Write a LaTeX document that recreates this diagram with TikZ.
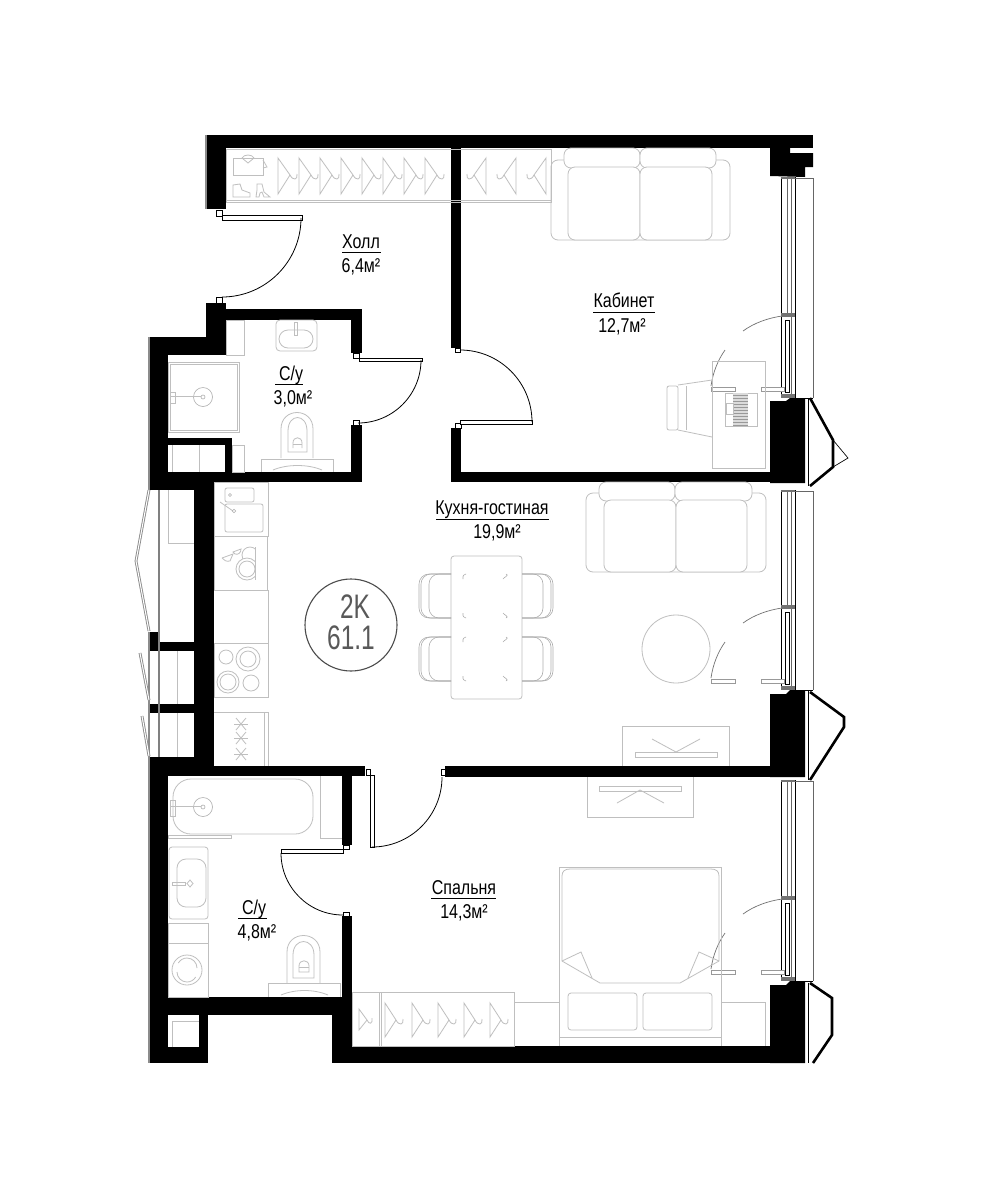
\documentclass[tikz,border=0pt]{standalone}
\usepackage{fontspec}
\setmainfont[FakeStretch=0.8]{Liberation Sans}
\newfontfamily\typefont[FakeStretch=0.72]{Liberation Sans}
\tikzset{%
wall/.style={fill=black},%
furn/.style={draw=black!25,line width=0.8pt,rounded corners=0pt},%
furnfine/.style={draw=black!32,line width=0.6pt},%
glass/.style={draw=black,line width=0.7pt},%
glassthin/.style={draw=black!60,line width=0.6pt},%
leaf/.style={draw=black,fill=white,line width=0.6pt},%
swing/.style={draw=black,line width=0.8pt},%
sashswing/.style={draw=black!55,line width=0.7pt},%
sashleaf/.style={draw=black!40,fill=white,line width=0.7pt},%
bay/.style={draw=black,line width=2.6pt,line join=miter},%
shaft/.style={draw=black!45,line width=1.2pt},%
roomname/.style={anchor=base,font=\fontsize{20}{23}\selectfont,inner sep=0pt},%
namerule/.style={draw=black,line width=0.8pt},%
typetext/.style={anchor=base,font=\typefont\fontsize{34}{37}\selectfont,text=black!65,inner sep=0pt}%
}
\begin{document}
\begin{tikzpicture}[x=1pt,y=-1pt]%
\useasboundingbox (0,0) rectangle (1000,1200);%
\fill[white] (0,0) rectangle (1000,1200);%
\fill[wall] (206,135) rectangle (813,148);%
\fill[wall] (206,135) rectangle (226,209);%
\fill[wall] (770,148) -- (790,148) -- (790,153) -- (813,153) -- (813,167) -- (805,167) -- (805,177) -- (770,176) -- cycle;%
\fill[wall] (451,148) rectangle (461,348);%
\fill[wall] (451,428) rectangle (461,482);%
\fill[wall] (451,472) rectangle (770,482);%
\fill[wall] (206,303) rectangle (226,355);%
\fill[wall] (206,309) rectangle (362,320);%
\fill[wall] (351,309) rectangle (362,353);%
\fill[wall] (351,425) rectangle (362,482);%
\fill[wall] (150,337) rectangle (226,355);%
\fill[wall] (150,337) rectangle (168,490);%
\fill[wall] (168,438) rectangle (232,445);%
\fill[wall] (225,438) rectangle (232,482);%
\fill[wall] (168,472) rectangle (362,482);%
\fill[wall] (150,480) rectangle (214,490);%
\fill[wall] (194,480) rectangle (214,776);%
\fill[wall] (150,632) rectangle (159,651);%
\fill[wall] (150,642) rectangle (194,651);%
\fill[wall] (150,704) rectangle (194,713);%
\fill[wall] (150,757) rectangle (214,776);%
\fill[wall] (214,766) rectangle (365,776);%
\fill[wall] (445,766) rectangle (770,777);%
\fill[wall] (150,757) rectangle (168,1063);%
\fill[wall] (342,776) rectangle (352,845);%
\fill[wall] (342,916) rectangle (352,1063);%
\fill[wall] (168,997) rectangle (352,1015);%
\fill[wall] (199,997) rectangle (208,1063);%
\fill[wall] (150,1047) rectangle (208,1063);%
\fill[wall] (332,1015) rectangle (352,1063);%
\fill[wall] (332,1046) rectangle (805,1063);%
\fill[wall] (770,401) -- (786,401) -- (790,398) -- (805,398) -- (805,483) -- (770,483) -- cycle;%
\fill[wall] (770,694) -- (786,694) -- (790,690) -- (805,690) -- (805,777) -- (770,777) -- cycle;%
\fill[wall] (770,985) -- (786,985) -- (790,981) -- (805,981) -- (805,1063) -- (770,1063) -- cycle;%
\draw[shaft] (149,337) -- (149,490);%
\draw[shaft] (149,632) -- (149,1063);%
\draw[shaft] (206,135) -- (206,209);%
\foreach \bt/\b in {177/315,490/607,780/898} {%
\draw[glass] (781,\bt) -- (781,\b+83);%
\draw[glass] (795,\bt) -- (795,\b+83);%
\draw[glassthin] (813,\bt+1) -- (813,\b+83);%
\draw[glassthin] (795,\bt+1) -- (813,\bt+1);%
\draw[glass] (795,\b+83) -- (813,\b+83);%
\draw[glassthin] (787,\bt) -- (787,\b);%
\draw[glassthin] (791,\bt) -- (791,\b+83);%
\fill[black!55] (781,\bt) rectangle (795,\bt+2);%
\fill[black!55] (781,\b-2) rectangle (795,\b+2);%
\fill[black!55] (781,\b+79) rectangle (795,\b+83);%
\draw[glass,fill=white] (785,\b+5) rectangle (789,\b+77);%
\draw[sashleaf] (711,\b+72) rectangle (735,\b+76);%
\draw[sashleaf] (761,\b+72) rectangle (784,\b+76);%
\draw[sashswing] (782,\b+1) .. controls (768,\b+3) and (754,\b+8) .. (743,\b+16);%
\draw[sashswing] (725,\b+35) .. controls (718,\b+45) and (713,\b+57) .. (711,\b+71);%
}%
\draw[bay] (810,398) -- (833,440) -- (833,467) -- (810,486);%
\draw[glass] (833,440) -- (848,458) -- (833,467);%
\draw[bay] (810,692) -- (844,717) -- (844,727) -- (810,780);%
\draw[bay] (810,983) -- (832,998) -- (832,1035) -- (813,1063);%
\draw[glass] (808,398) -- (808,486);%
\draw[glass] (808,690) -- (808,780);%
\draw[glass] (808,983) -- (808,1063);%
\draw[shaft,double=white,double distance=1pt,line width=0.9pt] (149,490) -- (136,561) -- (149,631);%
\draw[shaft,double=white,double distance=1pt,line width=0.9pt] (140,653) -- (149,700);%
\draw[shaft,double=white,double distance=1pt,line width=0.9pt] (142,716) -- (149,756);%
\draw[black!50,line width=1.4pt] (159,490) -- (159,757);%
\draw[furn] (168,490) -- (168,543) -- (194,543);%
\draw[furn] (177,651) -- (177,704);%
\draw[furn] (177,713) -- (177,757);%
\draw[leaf] (216,210) rectangle (222,216);%
\draw[leaf] (216,297) rectangle (222,303);%
\draw[leaf] (222,215) rectangle (302,220);%
\draw[swing] (301,218) arc[start angle=0,end angle=90,radius=79];%
\draw[leaf] (353,353) rectangle (359,358);%
\draw[leaf] (353,420) rectangle (359,425);%
\draw[leaf] (359,358) rectangle (422,361);%
\draw[swing] (421,360) arc[start angle=0,end angle=90,radius=63];%
\draw[leaf] (455,348) rectangle (460,352);%
\draw[leaf] (455,423) rectangle (461,428);%
\draw[leaf] (460,420) rectangle (532,424);%
\draw[swing] (460,350) arc[start angle=270,end angle=360,radius=72];%
\draw[leaf] (366,769) rectangle (370,775);%
\draw[leaf] (441,769) rectangle (445,775);%
\draw[leaf] (370,775) rectangle (374,847);%
\draw[swing] (372,847) arc[start angle=90,end angle=0,radius=70];%
\draw[leaf] (343,845) rectangle (349,849);%
\draw[leaf] (343,912) rectangle (349,916);%
\draw[leaf] (281,849) rectangle (343,853);%
\draw[swing] (281,853) arc[start angle=180,end angle=90,radius=62];%
\draw[furn] (226,149) rectangle (551,202);%
\draw[furn] (226,200) -- (551,200);%
\foreach \hx in {278,299,320,341,362,383,404,425} {%
\draw[furn] (\hx,158) -- (\hx+12,175) -- (\hx,194) -- cycle;%
\draw[furn] (\hx+12,175) .. controls (\hx+15,181) and (\hx+20,180) .. (\hx+19,174);%
}%
\foreach \hx in {486,516,546} {%
\draw[furn] (\hx,158) -- (\hx-12,175) -- (\hx,194) -- cycle;%
\draw[furn] (\hx-12,175) .. controls (\hx-15,181) and (\hx-20,180) .. (\hx-19,174);%
}%
\draw[furn] (233,158) rectangle (263,175);%
\draw[furn] (242,158) -- (248,163) -- (254,158);%
\draw[furn] (242,158) .. controls (244,154) and (252,154) .. (254,158);%
\draw[furn] (263,160) -- (267,167) -- (263,168);%
\draw[furn] (233,185) -- (240,184) -- (242,190) -- (250,193) -- (250,197) -- (233,197) -- cycle;%
\draw[furn] (257,184) -- (262,184) -- (264,192) -- (270,197) -- (264,197) -- (262,192) -- (260,193) -- (259,197) -- (256,197) -- (257,190) -- cycle;%
\draw[furn,rounded corners=7pt] (551,160) rectangle (730,240);%
\draw[furn,rounded corners=7pt,fill=white] (564,148) rectangle (640,168);%
\draw[furn,rounded corners=7pt,fill=white] (640,148) rectangle (716,168);%
\draw[furn,rounded corners=7pt,fill=white] (568,167) rectangle (640,240);%
\draw[furn,rounded corners=7pt,fill=white] (640,167) rectangle (712,240);%
\draw[furn] (712,361) rectangle (765,468);%
\draw[furn,rounded corners=2pt] (667,386) rectangle (678,430);%
\draw[furn] (678,385) -- (712,380);%
\draw[furn] (678,430) -- (712,437);%
\draw[furn] (686,386) -- (686,430);%
\draw[furn] (725,393) rectangle (757,426);%
\fill[black!14] (733,393) rectangle (748,426);%
\foreach \ky in {395,398,...,425} {\draw[black!40,line width=0.4pt] (733,\ky) -- (748,\ky);}%
\draw[furn] (726,403) rectangle (733,414);%
\draw[furn,rounded corners=4pt] (276,320) rectangle (317,351);%
\draw[furn,rounded corners=9pt] (279,330) rectangle (313,348);%
\draw[furn] (294,322) rectangle (297,335);%
\draw[furn] (226,320) rectangle (244,355);%
\draw[furn] (168,362) rectangle (239,432);%
\draw[furn] (170,364) rectangle (237,430);%
\draw[furnfine] (203,397) circle[radius=9.5];%
\draw[furnfine] (203,397) circle[radius=2];%
\draw[furn] (170,396) -- (201,396);%
\draw[furn] (170,392) rectangle (175,403);%
\draw[furn] (232,445) rectangle (244,472);%
\draw[furn] (172,445) -- (172,472);%
\draw[furn] (199,445) -- (199,472);%
\draw[furn] (281,458) -- (281,429) .. controls (281,407) and (313,407) .. (313,429) -- (313,458);%
\draw[furn] (288,452) -- (288,431) .. controls (288,413) and (307,413) .. (307,431) -- (307,452) -- cycle;%
\draw[furn] (293,448) -- (293,443) .. controls (293,436) and (302,436) .. (302,443) -- (302,448);%
\draw[furn] (293,444) -- (302,444);%
\draw[furn] (261,472) -- (261,459) -- (333,459) -- (333,472);%
\draw[furn] (273,470) .. controls (287,464) and (308,464) .. (322,470);%
\draw[furn] (214,482) rectangle (268,536);%
\draw[furn,rounded corners=2pt] (225,488) rectangle (254,502);%
\draw[furn,rounded corners=2pt] (225,504) rectangle (263,532);%
\draw[furn] (220,502) -- (233,511);%
\draw[furnfine] (234,511) circle[radius=1.8];%
\draw[furnfine] (230,495) circle[radius=1.5];%
\draw[furn] (214,536) rectangle (267,590);%
\begin{scope}%
\clip (214,536) rectangle (255,590);%
\draw[furn] (250,555) circle[radius=8];%
\draw[furn,fill=white] (247,569) circle[radius=11];%
\draw[furn] (247,569) circle[radius=8];%
\end{scope}%
\draw[furn] (255,547) -- (255,580);%
\draw[furn] (222,558) -- (233,554) -- (230,561) .. controls (226,562) and (224,560) .. (222,558);%
\draw[furn] (233,552) -- (241,549) .. controls (241,553) and (238,555) .. (235,554) -- cycle;%
\draw[furn] (214,590) -- (268,590) -- (268,643);%
\draw[furn] (214,643) rectangle (268,697);%
\draw[furn] (226,657) circle[radius=7];%
\draw[furn] (248,659) circle[radius=8];%
\draw[furn] (248,659) circle[radius=12];%
\draw[furn] (228,682) circle[radius=8];%
\draw[furn] (228,682) circle[radius=11];%
\draw[furn] (251,683) circle[radius=8];%
\draw[furn] (214,712) -- (268,712) -- (268,766);%
\draw[furn] (264,712) -- (264,766);%
\foreach \sy in {724,738,754} {%
\draw[furn] (234,\sy) -- (248,\sy);%
\draw[furn] (236,\sy-6) -- (246,\sy+6);%
\draw[furn] (246,\sy-6) -- (236,\sy+6);%
}%
\draw[furn,rounded corners=3pt] (451,556) rectangle (522,699);%
\foreach \cy in {574,637} {%
\draw[furnfine,rounded corners=10pt] (451,\cy) -- (419,\cy) -- (419,\cy+44) -- (451,\cy+44);%
\draw[furnfine,rounded corners=10pt] (451,\cy) -- (421,\cy) -- (421,\cy+44) -- (451,\cy+44);%
\draw[furnfine,rounded corners=10pt] (451,\cy) -- (429,\cy) -- (429,\cy+44) -- (451,\cy+44);%
\draw[furnfine,rounded corners=10pt] (522,\cy) -- (553,\cy) -- (553,\cy+44) -- (522,\cy+44);%
\draw[furnfine,rounded corners=10pt] (522,\cy) -- (551,\cy) -- (551,\cy+44) -- (522,\cy+44);%
\draw[furnfine,rounded corners=10pt] (522,\cy) -- (543,\cy) -- (543,\cy+44) -- (522,\cy+44);%
\draw[furnfine] (466,\cy) .. controls (462,\cy+1) and (463,\cy+4) .. (463,\cy+5);%
\draw[furnfine] (466,\cy+44) .. controls (462,\cy+43) and (463,\cy+40) .. (463,\cy+39);%
\draw[furnfine] (506,\cy) .. controls (510,\cy+1) and (503,\cy+4) .. (503,\cy+5);%
\draw[furnfine] (506,\cy+44) .. controls (510,\cy+43) and (503,\cy+40) .. (503,\cy+39);%
}%
\draw[furn,rounded corners=7pt] (586,493) rectangle (766,572);%
\draw[furn,rounded corners=7pt,fill=white] (599,482) rectangle (675,501);%
\draw[furn,rounded corners=7pt,fill=white] (675,482) rectangle (752,501);%
\draw[furn,rounded corners=7pt,fill=white] (604,500) rectangle (676,572);%
\draw[furn,rounded corners=7pt,fill=white] (676,500) rectangle (747,572);%
\draw[furn] (676,649) circle[radius=34];%
\draw[furn] (622,766) -- (622,726) -- (729,726) -- (729,766);%
\draw[furn] (635,752) rectangle (717,757);%
\draw[furn] (652,739) -- (676,752) -- (700,739);%
\draw[furn] (587,777) -- (587,817) -- (693,817) -- (693,777);%
\draw[furn] (599,786) rectangle (681,791);%
\draw[furn] (617,803) -- (640,790) -- (664,803);%
\draw[furn] (559,1046) -- (559,867) -- (721,867) -- (721,1046);%
\draw[furn] (562,961) -- (562,876) .. controls (562,871) and (565,869) .. (570,869) -- (711,869) .. controls (716,869) and (719,871) .. (719,876) -- (719,961) -- (680,983) -- (600,983) -- cycle;%
\draw[furn] (562,961) -- (581,952) -- (592,978);%
\draw[furn] (719,961) -- (699,952) -- (688,978);%
\draw[furn,rounded corners=3pt] (568,993) rectangle (637,1030);%
\draw[furn,rounded corners=3pt] (643,993) rectangle (712,1030);%
\draw[furn] (559,1037) -- (721,1037);%
\draw[furn] (515,1002) -- (559,1002);%
\draw[furn] (721,1002) -- (765,1002) -- (765,1046);%
\draw[furn] (352,992) rectangle (514,1046);%
\draw[furn] (379,992) -- (379,1046);%
\draw[furn] (381,992) -- (381,1046);%
\draw[furn] (359,1009) -- (367,1020) -- (359,1030) -- cycle;%
\draw[furn] (367,1020) .. controls (369,1025) and (373,1024) .. (372,1018);%
\foreach \hx in {385,412,438,464,490} {%
\draw[furn] (\hx,1003) -- (\hx+11,1020) -- (\hx,1037) -- cycle;%
\draw[furn] (\hx+11,1020) .. controls (\hx+14,1026) and (\hx+19,1025) .. (\hx+18,1019);%
}%
\draw[furn,rounded corners=18pt] (173,779) rectangle (313,834);%
\draw[furnfine] (203,807) circle[radius=9.5];%
\draw[furnfine] (203,807) circle[radius=2];%
\draw[furn] (170,806) -- (201,806);%
\draw[furn] (170,800) rectangle (175,816);%
\draw[furn] (320,776) -- (320,838) -- (342,838);%
\draw[furn] (168,835) rectangle (231,838);%
\draw[furn,rounded corners=3pt] (169,847) rectangle (208,919);%
\draw[furn,rounded corners=9pt] (177,859) rectangle (206,907);%
\draw[furn] (172,882) rectangle (185,885);%
\draw[furn] (190,880) -- (193,883.5) -- (190,887) -- (187,883.5) -- cycle;%
\draw[furn] (168,923) rectangle (208,943);%
\draw[furn] (168,943) rectangle (208,997);%
\draw[furn] (187,970) circle[radius=15];%
\draw[furn] (197,968) arc[start angle=0,end angle=-150,radius=10];%
\draw[furn] (177,972) arc[start angle=180,end angle=30,radius=10];%
\draw[furn] (287,983) -- (287,952) .. controls (287,930) and (320,930) .. (320,952) -- (320,983);%
\draw[furn] (293,978) -- (293,955) .. controls (293,937) and (314,937) .. (314,955) -- (314,978) -- cycle;%
\draw[furn] (299,972) -- (299,966) .. controls (299,959) and (309,959) .. (309,966) -- (309,972) -- cycle;%
\draw[furn] (299,967) -- (309,967);%
\draw[furn] (268,997) -- (268,983) -- (340,983) -- (340,997);%
\draw[furn] (281,995) .. controls (295,989) and (314,989) .. (328,995);%
\draw[furn] (172,1047) -- (172,1021) -- (199,1021);%
\draw[namerule] (342,252) -- (381,252);%
\node[roomname] (hallname) at (361,248) {Холл};%
\node[roomname] (hallarea) at (361,272) {6,4м²};%
\draw[namerule] (593,312) -- (655,312);%
\node[roomname] (studyname) at (624,307) {Кабинет};%
\node[roomname] (studyarea) at (622,332) {12,7м²};%
\draw[namerule] (275,384) -- (303,384);%
\node[roomname] (bathAname) at (291,380) {С/у};%
\node[roomname] (bathAarea) at (293,404) {3,0м²};%
\draw[namerule] (436,519) -- (549,519);%
\node[roomname] (livingname) at (492,514) {Кухня-гостиная};%
\node[roomname] (livingarea) at (497,538) {19,9м²};%
\draw[namerule] (431,898) -- (496,898);%
\node[roomname] (bedname) at (464,894) {Спальня};%
\node[roomname] (bedarea) at (464,918) {14,3м²};%
\draw[namerule] (238,918) -- (267,918);%
\node[roomname] (bathBname) at (254,914) {С/у};%
\node[roomname] (bathBarea) at (257,938) {4,8м²};%
\node[circle,draw=black!70,line width=1.1pt,minimum size=92pt,inner sep=0pt] (typeround) at (351,625) {};%
\node[typetext] (typename) at (355,618) {2K};%
\node[typetext] (typearea) at (351,649) {61.1};%
\end{tikzpicture}
\end{document}
